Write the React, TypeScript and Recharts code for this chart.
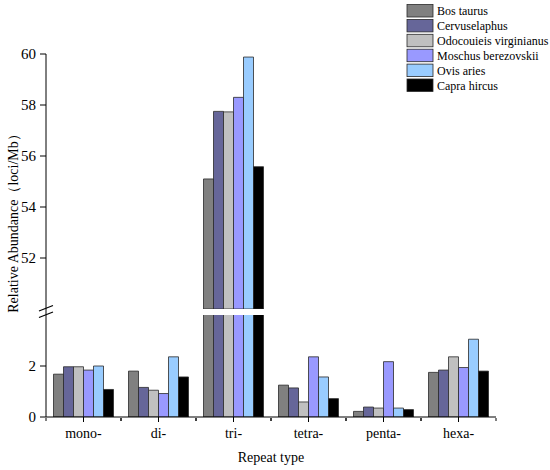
import React from 'react';
import { BarChart, Bar, XAxis, YAxis } from 'recharts';

const categories = ['mono-', 'di-', 'tri-', 'tetra-', 'penta-', 'hexa-'];

const seriesNames = [
  'Bos taurus',
  'Cervuselaphus',
  'Odocouieis virginianus',
  'Moschus berezovskii',
  'Ovis aries',
  'Capra hircus',
];
const seriesColors = ['#808080', '#666699', '#C0C0C0', '#9999FF', '#99CCFF', '#000000'];

const bosTaurus = [1.68, 1.8, 55.1, 1.25, 0.22, 1.75];
const cervuselaphus = [1.97, 1.16, 57.75, 1.14, 0.39, 1.84];
const odocouieis = [1.97, 1.05, 57.73, 0.59, 0.35, 2.36];
const moschus = [1.84, 0.92, 58.3, 2.36, 2.17, 1.94];
const ovisAries = [2.0, 2.36, 59.88, 1.57, 0.35, 3.05];
const capraHircus = [1.08, 1.57, 55.58, 0.72, 0.29, 1.8];

const seriesValues = [bosTaurus, cervuselaphus, odocouieis, moschus, ovisAries, capraHircus];

const upperTicks = [52, 54, 56, 58, 60];
const lowerTicks = [0, 2];
const upperDomain = [50, 60];
const lowerDomain = [0, 4];

const keys = seriesNames.map((_, i) => `s${i}`);

const lowerData = categories.map((name, ci) => {
  const row: Record<string, string | number> = { name };
  keys.forEach((k, si) => (row[k] = seriesValues[si][ci]));
  return row;
});

// only the values that reach the upper segment are drawn there
const upperData = categories.map((name, ci) => {
  const row: Record<string, string | number | null> = { name };
  keys.forEach((k, si) => {
    const v = seriesValues[si][ci];
    row[k] = v >= upperDomain[0] ? v : null;
  });
  return row;
});

const FONT = '"Liberation Serif", "Times New Roman", serif';
const W = 550;
const LEFT = 46;
const RIGHT = 54;
const BAND = (W - LEFT - RIGHT) / categories.length;

const XTick = (props: any) => {
  const { x, y, payload } = props;
  return (
    <g>
      <line x1={x - BAND / 2} x2={x - BAND / 2} y1={y - 6} y2={y - 3} stroke="#000" />
      <line x1={x + BAND / 2} x2={x + BAND / 2} y1={y - 6} y2={y - 3} stroke="#000" />
      <text x={x} y={y + 14} textAnchor="middle" fontSize={14} fontFamily={FONT} fill="#000">
        {payload.value}
      </text>
    </g>
  );
};

const yTick = { fontSize: 15, fontFamily: FONT, fill: '#000' };

const bars = keys.map((k, i) => (
  <Bar
    key={k}
    dataKey={k}
    name={seriesNames[i]}
    fill={seriesColors[i]}
    stroke="#2a2a2a"
    strokeWidth={0.8}
    isAnimationActive={false}
  />
));

export default function App() {
  return (
    <div
      style={{
        position: 'absolute',
        left: 0,
        top: 0,
        width: W,
        height: 470,
        background: '#fff',
        fontFamily: FONT,
      }}
    >
      <div style={{ position: 'absolute', left: 0, top: 0 }}>
        <BarChart
          width={W}
          height={320}
          data={upperData}
          margin={{ top: 54, right: RIGHT, bottom: 11, left: 0 }}
          barCategoryGap="10%"
          barGap={0}
        >
          <XAxis dataKey="name" hide />
          <YAxis
            width={LEFT}
            domain={upperDomain}
            ticks={upperTicks}
            allowDataOverflow
            tick={yTick}
            tickSize={6}
            tickMargin={4}
            stroke="#000"
          />
          {bars}
        </BarChart>
      </div>
      <div style={{ position: 'absolute', left: 0, top: 300 }}>
        <BarChart
          width={W}
          height={170}
          data={lowerData}
          margin={{ top: 15, right: RIGHT, bottom: 23, left: 0 }}
          barCategoryGap="10%"
          barGap={0}
        >
          <XAxis dataKey="name" height={30} tick={<XTick />} tickSize={5} stroke="#000" interval={0} />
          <YAxis
            width={LEFT}
            domain={lowerDomain}
            ticks={lowerTicks}
            allowDataOverflow
            tick={yTick}
            tickSize={6}
            tickMargin={4}
            stroke="#000"
          />
          {bars}
        </BarChart>
      </div>
      <svg
        width={W}
        height={470}
        style={{ position: 'absolute', left: 0, top: 0, pointerEvents: 'none' }}
      >
        {/* axis break */}
        <line x1={LEFT} x2={LEFT} y1={309} y2={315} stroke="#000" />
        <line x1={39} y1={311} x2={53} y2={305.5} stroke="#000" strokeWidth={1.2} />
        <line x1={39} y1={317.5} x2={53} y2={312} stroke="#000" strokeWidth={1.2} />
        <text
          transform="translate(18,220) rotate(-90)"
          textAnchor="middle"
          fontSize={14}
          fontFamily={FONT}
          fill="#000"
        >
          Relative Abundance（loci/Mb）
        </text>
        <text x={271} y={462} textAnchor="middle" fontSize={14} fontFamily={FONT} fill="#000">
          Repeat type
        </text>
        {seriesNames.map((n, i) => (
          <g key={n}>
            <rect
              x={407}
              y={4.5 + i * 14.9}
              width={26}
              height={12.5}
              fill={seriesColors[i]}
              stroke="#2a2a2a"
              strokeWidth={0.8}
            />
            <text x={437} y={15 + i * 14.9} fontSize={12} fontFamily={FONT} fill="#000">
              {n}
            </text>
          </g>
        ))}
      </svg>
    </div>
  );
}
